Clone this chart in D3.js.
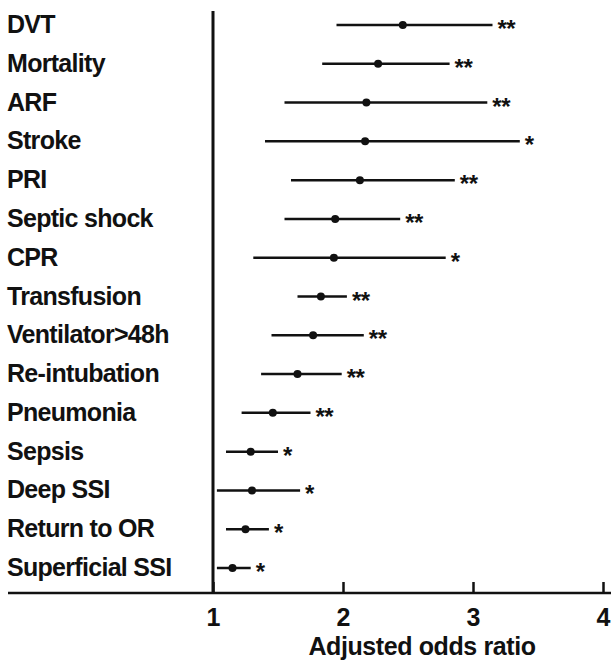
<!DOCTYPE html>
<html>
<head>
<meta charset="utf-8">
<script src="https://cdn.jsdelivr.net/npm/d3@7"></script>
<style>
  body { margin: 0; background: #fff; }
  text { font-family: "Liberation Sans", Arial, Helvetica, sans-serif; font-weight: bold; fill: #111; }
</style>
</head>
<body>
<div id="vis"></div>
<script>
// forest plot of adjusted odds ratios

let outcomes = ["DVT", "Mortality", "ARF", "Stroke", "PRI", "Septic shock", "CPR",
  "Transfusion", "Ventilator>48h", "Re-intubation", "Pneumonia", "Sepsis",
  "Deep SSI", "Return to OR", "Superficial SSI"];
let oddsRatio = [2.46, 2.27, 2.18, 2.17, 2.13, 1.94, 1.93, 1.83, 1.77, 1.65, 1.46, 1.29, 1.30, 1.25, 1.15];
let ciLow  = [1.95, 1.84, 1.55, 1.40, 1.60, 1.55, 1.31, 1.65, 1.45, 1.37, 1.22, 1.10, 1.03, 1.10, 1.03];
let ciHigh = [3.15, 2.82, 3.11, 3.36, 2.86, 2.44, 2.79, 2.03, 2.16, 1.99, 1.75, 1.50, 1.67, 1.43, 1.29];
let stars  = ["**", "**", "**", "*", "**", "**", "*", "**", "**", "**", "**", "*", "*", "*", "*"];
let xTicks = [1, 2, 3, 4];
let xTitle = "Adjusted odds ratio";

let W = 611, H = 662;
let axisY = 593;

let data = outcomes.map(function(d, i) {
  return { label: d, or: oddsRatio[i], lo: ciLow[i], hi: ciHigh[i], star: stars[i] };
});

let svg = d3.select('#vis')
  .append('svg')
  .attr('width', W)
  .attr('height', H);

let xScale = d3.scaleLinear()
  .domain([1, 4])
  .range([213, 603]);

let yScale = d3.scalePoint()
  .domain(outcomes)
  .range([25, 568]);

// x axis, ticks pointing up
let xAxis = svg.append("g")
  .attr("transform", "translate(0," + axisY + ")")
  .call(d3.axisBottom(xScale).tickValues(xTicks).tickFormat(d3.format("d"))
    .tickSizeInner(-11).tickSizeOuter(0).tickPadding(15));
xAxis.select(".domain").remove();
xAxis.selectAll(".tick line").attr("stroke", "#111").attr("stroke-width", 2.5);
xAxis.selectAll(".tick text")
  .attr("font-size", 25)
  .attr("font-family", "Liberation Sans, Arial, sans-serif")
  .attr("font-weight", "bold")
  .attr("fill", "#111");

svg.append("line")
  .attr("x1", 8).attr("x2", W)
  .attr("y1", axisY).attr("y2", axisY)
  .attr("stroke", "#111").attr("stroke-width", 2.5);

// reference line at OR = 1
svg.append("line")
  .attr("x1", xScale(1)).attr("x2", xScale(1))
  .attr("y1", 11).attr("y2", axisY)
  .attr("stroke", "#111").attr("stroke-width", 3);

svg.append("text")
  .attr("x", 422)
  .attr("y", 655)
  .attr("text-anchor", "middle")
  .attr("font-size", 25)
  .attr("letter-spacing", -0.4)
  .text(xTitle);

// row labels
svg.selectAll(".lbl")
  .data(data)
  .enter()
  .append("text")
    .attr("class", "lbl")
    .attr("x", 7)
    .attr("y", function(d) { return yScale(d.label) + 8; })
    .attr("font-size", 25)
    .attr("letter-spacing", -0.7)
    .text(function(d) { return d.label; });

let rows = svg.append("g")
  .selectAll("g")
  .data(data)
  .enter()
  .append("g");

rows.append("line")
  .attr("x1", function(d) { return xScale(d.lo); })
  .attr("x2", function(d) { return xScale(d.hi); })
  .attr("y1", function(d) { return yScale(d.label); })
  .attr("y2", function(d) { return yScale(d.label); })
  .attr("stroke", "#111")
  .attr("stroke-width", 2.5);

rows.append("circle")
  .attr("cx", function(d) { return xScale(d.or); })
  .attr("cy", function(d) { return yScale(d.label); })
  .attr("r", 4)
  .attr("fill", "#111");

rows.append("text")
  .attr("x", function(d) { return xScale(d.hi) + 5; })
  .attr("y", function(d) { return yScale(d.label) + 12; })
  .attr("font-size", 24)
  .attr("letter-spacing", -0.5)
  .text(function(d) { return d.star; });
</script>
</body>
</html>
